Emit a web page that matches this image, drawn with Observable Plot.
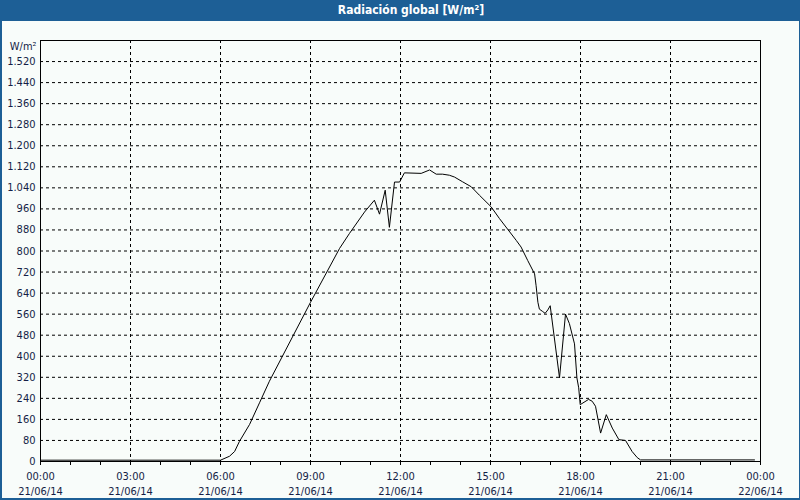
<!DOCTYPE html>
<html>
<head>
<meta charset="utf-8">
<script src="https://cdn.jsdelivr.net/npm/d3@7"></script>
<script src="https://cdn.jsdelivr.net/npm/@observablehq/plot@0.6"></script>
<style>
  html, body { margin: 0; padding: 0; background: #f8fcfa; }
  #page { position: relative; width: 800px; height: 500px; overflow: hidden; background: #f8fcfa;
          font-family: "DejaVu Sans Condensed", "DejaVu Sans", sans-serif; font-stretch: condensed; }
  #titlebar { height: 21px; background: #1d5f96; color: #fff; font-weight: bold; font-size: 12px;
              line-height: 21px; position: relative; }
  #titlebar span { position: absolute; left: 411px; transform: translateX(-50%); white-space: nowrap; }
  #border { position: absolute; left: 0; top: 0; width: 800px; height: 500px; box-sizing: border-box;
            border-left: 2px solid #1d5f96; border-right: 1px solid #1d5f96; border-bottom: 2px solid #1d5f96;
            pointer-events: none; }
  #chart svg { display: block; }
</style>
</head>
<body>
<div id="page">
  <div id="titlebar"><span>Radiación global [W/m²]</span></div>
  <div id="chart"></div>
  <div id="border"></div>
</div>
<script>
// Time of day in hours (21/06/14)
const hours = [0, 6.0, 6.3, 6.47, 6.63, 6.97, 7.3, 7.63, 9.0, 9.97, 10.3, 10.8, 11.13, 11.3, 11.49, 11.63, 11.8, 11.97, 12.13, 12.69, 12.97, 13.19, 13.4, 13.63, 13.8, 14.07, 14.36, 14.63, 15.02, 15.3, 15.86, 16.02, 16.24, 16.47, 16.52, 16.58, 16.63, 16.74, 16.82, 16.91, 16.99, 17.3, 17.5, 17.63, 17.8, 17.88, 17.94, 17.99, 18.27, 18.39, 18.5, 18.67, 18.86, 19.06, 19.28, 19.5, 19.72, 19.89, 20.0, 23.8];
// Global radiation W/m²
const radiation = [5, 5, 20, 38, 76, 141, 223, 305, 605, 810, 867, 948, 993, 940, 1031, 890, 1062, 1062, 1097, 1095, 1108, 1092, 1092, 1088, 1081, 1063, 1044, 1012, 968, 923, 840, 815, 764, 713, 668, 605, 579, 570, 563, 576, 592, 318, 560, 524, 447, 318, 280, 216, 236, 229, 210, 108, 178, 127, 83, 80, 38, 15, 6, 6];

const xTickHours = [0, 3, 6, 9, 12, 15, 18, 21, 24];
const xTickTimes = ["00:00", "03:00", "06:00", "09:00", "12:00", "15:00", "18:00", "21:00", "00:00"];
const xTickDates = ["21/06/14", "21/06/14", "21/06/14", "21/06/14", "21/06/14", "21/06/14", "21/06/14", "21/06/14", "22/06/14"];
const xMinorHours = d3.range(0, 25, 1);
const yTicks = d3.range(0, 1521, 80);
const yUnit = "W/m²";

const data = hours.map((h, i) => ({h, v: radiation[i]}));
const xLabels = xTickHours.map((h, i) => ({h, t: xTickTimes[i], d: xTickDates[i]}));
const fmt = d3.formatLocale({decimal: ",", thousands: ".", grouping: [3], currency: ["", ""]}).format(",d");
const ink = "#141e46";

const chart = Plot.plot({
  width: 800,
  height: 479,
  marginTop: 19,
  marginBottom: 39,
  marginLeft: 40,
  marginRight: 40,
  style: {background: "transparent", fontFamily: "'DejaVu Sans Condensed', 'DejaVu Sans', sans-serif", fontSize: "11px", color: ink},
  x: {domain: [0, 24]},
  y: {domain: [0, 1600]},
  marks: [
    Plot.gridY(yTicks.filter(d => d > 0), {stroke: "#000", strokeOpacity: 1, strokeDasharray: "3,3"}),
    Plot.gridX(xTickHours.filter(d => d > 0 && d < 24), {stroke: "#000", strokeOpacity: 1, strokeDasharray: "3,3"}),
    Plot.axisY(yTicks, {tickSize: 0, tickPadding: 5, tickFormat: fmt, label: null, fill: ink}),
    Plot.axisX(xMinorHours, {tickSize: 4, tickFormat: () => "", label: null, stroke: "#000"}),
    Plot.text(xLabels, {x: "h", text: "t", frameAnchor: "bottom", dy: 15, lineAnchor: "middle", fill: ink}),
    Plot.text(xLabels, {x: "h", text: "d", frameAnchor: "bottom", dy: 30, lineAnchor: "middle", fill: ink}),
    Plot.text([yUnit], {frameAnchor: "top-left", text: d => d, textAnchor: "end", lineAnchor: "middle", dx: -4, dy: 6, fill: ink}),
    Plot.line(data, {x: "h", y: "v", stroke: "#000", strokeWidth: 1}),
    Plot.frame({stroke: "#000", strokeWidth: 1})
  ]
});
document.getElementById("chart").appendChild(chart);
</script>
</body>
</html>
